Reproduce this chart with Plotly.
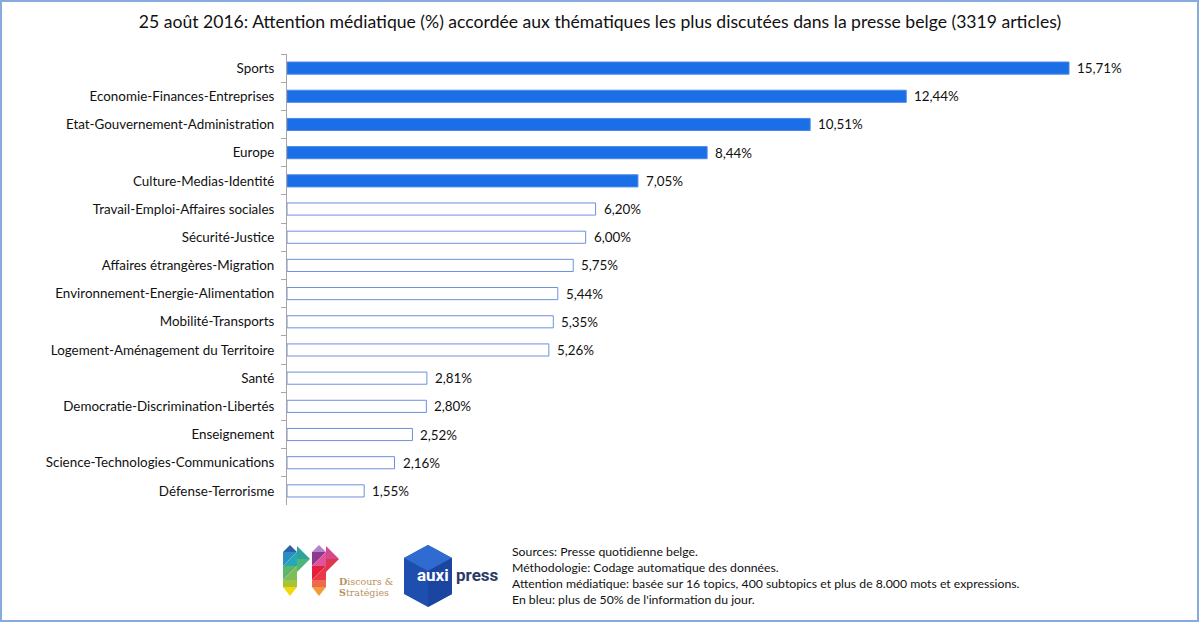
import plotly.graph_objects as go

categories = [
    "Sports", "Economie-Finances-Entreprises", "Etat-Gouvernement-Administration",
    "Europe", "Culture-Medias-Identité", "Travail-Emploi-Affaires sociales",
    "Sécurité-Justice", "Affaires étrangères-Migration",
    "Environnement-Energie-Alimentation", "Mobilité-Transports",
    "Logement-Aménagement du Territoire", "Santé",
    "Democratie-Discrimination-Libertés", "Enseignement",
    "Science-Technologies-Communications", "Défense-Terrorisme",
]
values = [15.71, 12.44, 10.51, 8.44, 7.05, 6.20, 6.00, 5.75, 5.44, 5.35, 5.26,
          2.81, 2.80, 2.52, 2.16, 1.55]
highlighted = [True] * 5 + [False] * 11
labels = [f"{v:.2f}".replace(".", ",") + "%" for v in values]

title = "25 août 2016: Attention médiatique (%) accordée aux thématiques les plus discutées dans la presse belge (3319 articles)"
notes = [
    "Sources: Presse quotidienne belge.",
    "Méthodologie: Codage automatique des données.",
    "Attention médiatique: basée sur 16 topics, 400 subtopics et plus de 8.000 mots et expressions.",
    "En bleu: plus de 50% de l'information du jour.",
]

FONT = "Lato"
W, H = 1200, 623
L, R, T, B = 287, 17, 54, 118
PW, PH = W - L - R, H - T - B


def px(x):
    return (x - L) / PW


def py(y):
    return (H - B - y) / PH


def poly(pts, color):
    path = "M " + " L ".join(f"{px(a)},{py(b)}" for a, b in pts) + " Z"
    return dict(type="path", xref="paper", yref="paper", path=path,
                fillcolor=color, line=dict(width=0))


fill_colors = ["#1A6FE6" if h else "white" for h in highlighted]
line_colors = ["#4F86E8" if h else "#6E8FE0" for h in highlighted]

fig = go.Figure(go.Bar(
    x=values, y=categories, orientation="h", width=0.43,
    marker=dict(color=fill_colors, line=dict(color=line_colors, width=1)),
    hoverinfo="x+y",
))

annotations = []
for v, c, t in zip(values, categories, labels):
    annotations.append(dict(x=v, y=c, xref="x", yref="y", text=t, showarrow=False,
                            xanchor="left", yanchor="middle", xshift=6,
                            font=dict(family=FONT, size=13.4, color="#111111")))

shapes = []
# border
shapes.append(dict(type="rect", xref="paper", yref="paper",
                   x0=px(1), x1=px(1198), y0=py(621), y1=py(1),
                   line=dict(color="#86ABDC", width=2), fillcolor="rgba(0,0,0,0)", layer="below"))


def logo(x0, cols):
    c = cols
    s = []
    s.append(poly([(x0, 552), (x0 + 7, 545), (x0 + 14, 552)], c[0]))
    s.append(poly([(x0, 552), (x0 + 14, 552), (x0, 566)], c[1]))
    s.append(poly([(x0 + 14, 552), (x0 + 14, 566), (x0, 566)], c[2]))
    s.append(poly([(x0, 566), (x0 + 14, 566), (x0, 580)], c[3]))
    s.append(poly([(x0 + 14, 566), (x0 + 14, 580), (x0, 580)], c[4]))
    s.append(poly([(x0, 580), (x0 + 14, 580), (x0 + 14, 587), (x0, 587)], c[5]))
    s.append(poly([(x0, 587), (x0 + 14, 587), (x0 + 7, 596)], c[6]))
    s.append(poly([(x0 + 14, 546), (x0 + 27, 559), (x0 + 14, 559)], c[7]))
    s.append(poly([(x0 + 14, 559), (x0 + 27, 559), (x0 + 14, 572)], c[8]))
    return s


shapes += logo(283, ["#2D5FAA", "#2A8FC0", "#27A8B6", "#5DB66B", "#7DBE5A",
                     "#A5C43A", "#F5D70A", "#2EA39C", "#4DB57A"])
shapes += logo(312, ["#B583C9", "#8E3A8C", "#E0529B", "#E41E3C", "#E8384A",
                     "#EE6A4C", "#F39B3A", "#D6488E", "#E0354F"])

# auxipress cube (approximation)
shapes.append(poly([(428, 545), (452, 558), (452, 594), (428, 607), (404, 594), (404, 558)], "#1F4FAE"))
shapes.append(poly([(428, 545), (452, 558), (428, 571), (404, 558)], "#2F6BD0"))
shapes.append(poly([(428, 571), (452, 558), (452, 594), (428, 607)], "#1A45A0"))

annotations.append(dict(xref="paper", yref="paper", x=px(337), y=py(581), text="<b>D</b>iscours &amp;",
                        showarrow=False, xanchor="left", yanchor="middle",
                        font=dict(family="DejaVu Serif", size=9.5, color="#B8925E")))
annotations.append(dict(xref="paper", yref="paper", x=px(337), y=py(592), text="<b>S</b>tratégies",
                        showarrow=False, xanchor="left", yanchor="middle",
                        font=dict(family="DejaVu Serif", size=9.5, color="#B8925E")))
annotations.append(dict(xref="paper", yref="paper", x=px(451), y=py(575), text="<b>auxi</b>",
                        showarrow=False, xanchor="right", yanchor="middle",
                        font=dict(family="Roboto", size=17, color="white")))
annotations.append(dict(xref="paper", yref="paper", x=px(454), y=py(575), text="<b>press</b>",
                        showarrow=False, xanchor="left", yanchor="middle",
                        font=dict(family="Roboto", size=17, color="#2B3A67")))
for i, line in enumerate(notes):
    annotations.append(dict(xref="paper", yref="paper", x=px(510), y=py(551 + i * 16.3),
                            text=line, showarrow=False, xanchor="left", yanchor="middle",
                            font=dict(family=FONT, size=12.25, color="#111111")))

fig.update_layout(
    width=W, height=H,
    margin=dict(l=L, r=R, t=T, b=B),
    paper_bgcolor="white", plot_bgcolor="white",
    showlegend=False,
    title=dict(text=title, x=0.5, xref="container", xanchor="center",
               y=1 - 22 / H, yref="container", yanchor="middle",
               font=dict(family=FONT, size=17.6, color="#111111")),
    xaxis=dict(range=[0, 18], showgrid=False, showticklabels=False, zeroline=False,
               showline=False, fixedrange=True),
    yaxis=dict(autorange="reversed", showline=True, linecolor="#A6A6A6", linewidth=1,
               ticks="outside", tickson="boundaries", ticklen=5, tickcolor="#A6A6A6",
               ticklabelstandoff=9,
               tickfont=dict(family=FONT, size=13.4, color="#111111"), showgrid=False),
    shapes=shapes, annotations=annotations,
)

fig.write_html("out.html")
